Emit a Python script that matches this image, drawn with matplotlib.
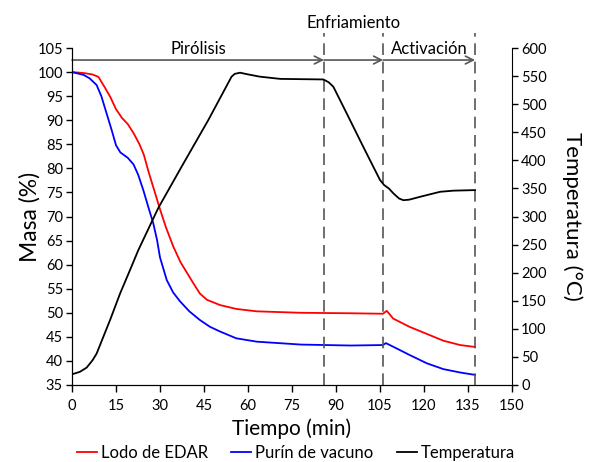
import matplotlib
matplotlib.use("Agg")
import matplotlib.pyplot as plt

plt.rcParams['font.family'] = ['Lato', 'DejaVu Sans']

# ---- data ----
time_lodo = [0, 4, 7, 9, 11, 13, 15, 17, 19, 21, 23, 24.5, 26, 28, 30, 32, 34.5, 37, 39,
             41.5, 43.6, 46, 50.5, 56, 63, 78, 95, 106, 107.3, 109.5, 115, 121, 126.6, 132.3, 137.4]
mass_lodo = [100, 99.8, 99.5, 99, 97, 94.9, 92.3, 90.5, 89.2, 87.3, 85, 82.8, 79.5, 75.5, 71.5, 67.8,
             63.8, 60.5, 58.5, 56, 54, 52.7, 51.6, 50.8, 50.3, 50.0, 49.9, 49.8, 50.4, 48.8, 47.1,
             45.6, 44.2, 43.3, 42.9]

time_purin = [0, 4, 6, 8.4, 10, 11.8, 13.5, 15, 16.5, 19, 21, 22.6, 24.3, 26, 27.7, 29, 30, 32.3,
              34.5, 36.8, 40, 43.6, 47, 50.5, 56, 63, 78, 95, 106, 107, 110, 115.2, 121, 126.6, 132.3, 137.4]
mass_purin = [100, 99.4, 98.7, 97.3, 95, 91.4, 88, 84.8, 83.3, 82.2, 80.8, 78.6, 75.5, 72, 68.6,
              65.1, 61.5, 56.8, 54.2, 52.4, 50.3, 48.5, 47.1, 46.1, 44.7, 44.0, 43.4, 43.2, 43.3,
              43.7, 42.8, 41.2, 39.5, 38.3, 37.6, 37.1]

time_temp = [0, 2.7, 5, 7, 8.4, 10.7, 13, 16.4, 19.8, 22.6, 29.4, 37.4, 46.5, 54.4, 55.5, 57.3, 60,
             64, 71, 85.7, 87.5, 89.1, 93.7, 99.3, 105, 106.4, 108, 109.6, 111.5, 113, 115, 118.6,
             125.5, 130, 137.4]
temp = [19, 23.5, 31, 44, 56, 86, 116, 163, 205, 240, 315, 389, 472, 549, 554, 556, 553, 549, 545,
        544, 539, 531, 483, 424, 365, 356, 350, 341, 332, 329, 330, 335, 344, 346, 347]

phase_ends = [85.9, 106.1, 137.4]
phase_names = ['Pirólisis', 'Enfriamiento', 'Activación']
series_names = ['Lodo de EDAR', 'Purín de vacuno', 'Temperatura']

x_ticks = list(range(0, 151, 15))
mass_ticks = list(range(35, 106, 5))
temp_ticks = list(range(0, 601, 50))

# ---- figure ----
fig = plt.figure(figsize=(5.92, 4.62), dpi=100)
ax = fig.add_axes([72/592, 1-385/462, 440/592, 337/462])
ax2 = ax.twinx()

l1, = ax.plot(time_lodo, mass_lodo, color='#ff0000', lw=1.3)
l2, = ax.plot(time_purin, mass_purin, color='#0000ff', lw=1.3)
l3, = ax2.plot(time_temp, temp, color='black', lw=1.3)

ax.set_xlim(0, 150)
ax.set_ylim(35, 105)
ax2.set_ylim(0, 600)
ax.set_xticks(x_ticks)
ax.set_yticks(mass_ticks)
ax2.set_yticks(temp_ticks)

for a in (ax, ax2):
    a.spines['top'].set_visible(False)
    a.tick_params(direction='out', length=4.5, width=1, labelsize=10.5, colors='black', pad=2)
ax.tick_params(axis='x', length=5, pad=5)
ax.spines['right'].set_visible(False)

ax.set_xlabel('Tiempo (min)', fontsize=15, labelpad=4)
ax.set_ylabel('Masa (%)', fontsize=16.5, labelpad=-2)
ax2.set_ylabel('Temperatura (°C)', fontsize=16, rotation=-90, labelpad=26)

# phase boundaries and arrows
arrow_y = 102.5
start = 0
for end in phase_ends:
    ax.annotate('', xy=(end, arrow_y), xytext=(start, arrow_y),
                arrowprops=dict(arrowstyle='->', color='#555555', lw=1.2,
                                shrinkA=0, shrinkB=0, mutation_scale=14))
    ax.plot([end, end], [35, 108.1], color='#555555', lw=1.2,
            linestyle=(0, (7, 4)), clip_on=False)
    start = end

ax.text((0 + phase_ends[0]) / 2, 103.2, phase_names[0], ha='center', va='bottom', fontsize=12)
ax.text((phase_ends[0] + phase_ends[1]) / 2, 108.5, phase_names[1], ha='center', va='bottom', fontsize=12)
ax.text((phase_ends[1] + phase_ends[2]) / 2, 103.2, phase_names[2], ha='center', va='bottom', fontsize=12)

fig.legend([l1, l2, l3], series_names, loc='lower center', bbox_to_anchor=(0.5, -0.012),
           ncol=3, frameon=False, fontsize=12, handlelength=1.2, handletextpad=0.25,
           columnspacing=1.4, borderaxespad=0)

fig.savefig('out.png', dpi=100)
